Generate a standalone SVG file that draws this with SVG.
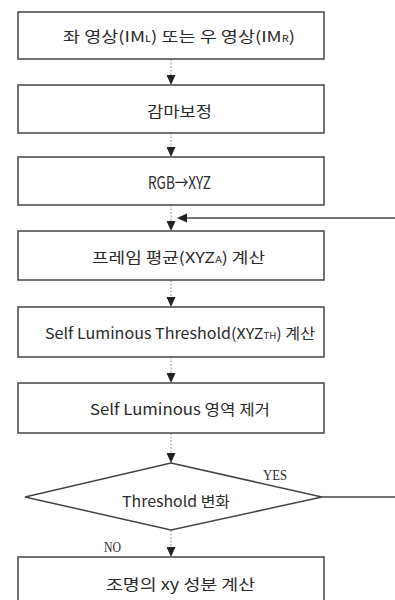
<svg xmlns="http://www.w3.org/2000/svg" width="395" height="600" viewBox="0 0 395 600">
<style>
.box{fill:#fff;stroke:#444;stroke-width:1.5}
.t{font-family:"Noto Sans CJK KR","Liberation Serif",serif;font-size:15px;fill:#2a2a2a;text-anchor:middle;dominant-baseline:central}
.lbl{font-family:"Liberation Serif","Noto Sans CJK KR",serif;font-size:14px;fill:#2a2a2a;dominant-baseline:central}
.sub{font-size:9px}
.dot{stroke:#999;stroke-width:1;stroke-dasharray:2 1.5;fill:none}
.ln{stroke:#444;stroke-width:1.3;fill:none}
.ah{fill:#222}
</style>
<rect width="395" height="600" fill="#fff"/>
<g id="connectors">
<line class="dot" x1="171" y1="59" x2="171" y2="76"/>
<polygon class="ah" points="166.5,75 175.5,75 171,85"/>
<line class="dot" x1="171" y1="133" x2="171" y2="148"/>
<polygon class="ah" points="166.5,147 175.5,147 171,157"/>
<line class="dot" x1="171" y1="205" x2="171" y2="222"/>
<polygon class="ah" points="166.5,221 175.5,221 171,231"/>
<line class="ln" x1="395" y1="218" x2="184" y2="218"/>
<polygon class="ah" points="177,218 187,213.5 187,222.5"/>
<line class="dot" x1="171" y1="280" x2="171" y2="298"/>
<polygon class="ah" points="166.5,297 175.5,297 171,307"/>
<line class="dot" x1="171" y1="357" x2="171" y2="374"/>
<polygon class="ah" points="166.5,373 175.5,373 171,383"/>
<line class="dot" x1="171" y1="433" x2="171" y2="454"/>
<polygon class="ah" points="166.5,453 175.5,453 171,463"/>
<line class="ln" x1="322" y1="497" x2="395" y2="497"/>
<line class="dot" x1="171" y1="530" x2="171" y2="548"/>
<polygon class="ah" points="166.5,547 175.5,547 171,557"/>
<text class="lbl" x="263" y="475" textLength="24" lengthAdjust="spacingAndGlyphs">YES</text>
<text class="lbl" x="104" y="547" textLength="17" lengthAdjust="spacingAndGlyphs">NO</text>
</g>
<g id="n1">
<rect class="box" x="18" y="12" width="306" height="47"/>
<text class="t" x="179" y="35" textLength="232" lengthAdjust="spacingAndGlyphs">좌 영상(IM<tspan class="sub" dy="3">L</tspan><tspan dy="-3">) 또는 우 영상(IM</tspan><tspan class="sub" dy="3">R</tspan><tspan dy="-3">)</tspan></text>
</g>
<g id="n2">
<rect class="box" x="18" y="85" width="306" height="48"/>
<text class="t" x="179.5" y="110" textLength="65" lengthAdjust="spacingAndGlyphs">감마보정</text>
</g>
<g id="n3">
<rect class="box" x="18" y="157" width="306" height="48"/>
<text class="t" x="179.5" y="181" style="font-size:17px" textLength="63" lengthAdjust="spacingAndGlyphs">RGB→XYZ</text>
</g>
<g id="n4">
<rect class="box" x="18" y="231" width="306" height="49"/>
<text class="t" x="178.5" y="256" textLength="173" lengthAdjust="spacingAndGlyphs">프레임 평균(XYZ<tspan class="sub" dy="3">A</tspan><tspan dy="-3">) 계산</tspan></text>
</g>
<g id="n5">
<rect class="box" x="18" y="307" width="306" height="50"/>
<text class="t" x="180" y="332" textLength="270" lengthAdjust="spacingAndGlyphs">Self Luminous Threshold(XYZ<tspan class="sub" dy="3">TH</tspan><tspan dy="-3">) 계산</tspan></text>
</g>
<g id="n6">
<rect class="box" x="18" y="383" width="306" height="50"/>
<text class="t" x="180" y="408" textLength="180" lengthAdjust="spacingAndGlyphs">Self Luminous 영역 제거</text>
</g>
<g id="n7">
<polygon class="box" points="171,463 322,497 171,530 25,497"/>
<text class="t" x="176" y="500" textLength="108" lengthAdjust="spacingAndGlyphs">Threshold 변화</text>
</g>
<g id="n8">
<rect class="box" x="18" y="557" width="306" height="60"/>
<text class="t" x="180.5" y="583" textLength="149" lengthAdjust="spacingAndGlyphs">조명의 xy 성분 계산</text>
</g>
</svg>
